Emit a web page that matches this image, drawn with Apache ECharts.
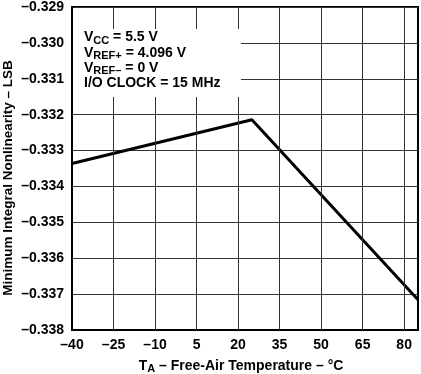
<!DOCTYPE html>
<html><head><meta charset="utf-8">
<script src="https://cdn.jsdelivr.net/npm/echarts@6/dist/echarts.min.js"></script>
<style>html,body{margin:0;padding:0;background:#fff}#c{width:421px;height:374px}</style>
</head><body><div id="c"></div>
<script>
var temps = [-40, 25, 85];
var inl = [-0.33336, -0.33214, -0.33716];
var xTicks = [-40, -25, -10, 5, 20, 35, 50, 65, 80];
var yMin = -0.338, yMax = -0.329, yStep = 0.001;

var FONT = '"Liberation Sans", Arial, sans-serif';
var chart = echarts.init(document.getElementById('c'), null, {renderer: 'canvas'});
chart.setOption({
  animation: false,
  grid: {left: 72, right: 3, top: 6, bottom: 44, show: true, borderColor: '#000', borderWidth: 2, backgroundColor: 'transparent'},
  xAxis: {
    type: 'value', min: -40, max: 85,
    axisLine: {show: true, onZero: false, lineStyle: {color: '#000', width: 2}},
    axisTick: {show: false},
    splitLine: {show: false},
    axisLabel: {customValues: xTicks, color: '#000', fontFamily: FONT, fontWeight: 'bold', fontSize: 14, margin: 8,
      formatter: function(v){ return v < 0 ? '\u2013' + Math.abs(v) : String(v); }}
  },
  yAxis: {
    type: 'value', min: yMin, max: yMax, interval: yStep,
    axisLine: {show: true, onZero: false, lineStyle: {color: '#000', width: 2}},
    axisTick: {show: false},
    splitLine: {show: true, lineStyle: {color: '#333', width: 1}},
    axisLabel: {color: '#000', fontFamily: FONT, fontWeight: 'bold', fontSize: 14, margin: 8,
      formatter: function(v){ return '\u2013' + Math.abs(v).toFixed(3); }}
  },
  series: [{
    type: 'line', data: temps.map(function(t, i){ return [t, inl[i]]; }),
    showSymbol: false, lineStyle: {color: '#000', width: 3}, z: 3,
    markLine: {
      silent: true, symbol: 'none', label: {show: false},
      lineStyle: {color: '#333', width: 1, type: 'solid'},
      emphasis: {disabled: true},
      data: xTicks.slice(1).map(function(v){ return {xAxis: v}; })
    }
  }],
  graphic: [
    {type: 'rect', left: 73, top: 29, shape: {width: 168, height: 68}, style: {fill: '#fff'}, z: 10},
    {type: 'text', left: 84, top: 29, z: 11, style: {
      text: '{a|V}{s|CC}{a| = 5.5 V}\n{a|V}{s|REF+}{a| = 4.096 V}\n{a|V}{s|REF\u2013}{a| = 0 V}\n{a|I/O CLOCK = 15 MHz}',
      rich: {
        a: {fontFamily: FONT, fontWeight: 'bold', fontSize: 14, fill: '#000', lineHeight: 15.3},
        s: {fontFamily: FONT, fontWeight: 'bold', fontSize: 11, fill: '#000', lineHeight: 15.3, padding: [6,0,0,0]}
      }
    }},
    {type: 'text', x: 241, y: 366, z: 11, style: {
      text: '{a|T}{s|A}{a| \u2013 Free-Air Temperature \u2013 \u00B0C}',
      align: 'center', verticalAlign: 'middle',
      rich: {
        a: {fontFamily: FONT, fontWeight: 'bold', fontSize: 14, fill: '#000', lineHeight: 16},
        s: {fontFamily: FONT, fontWeight: 'bold', fontSize: 11, fill: '#000', lineHeight: 16, padding: [6,0,0,0]}
      }
    }},
    {type: 'text', x: 8, y: 178, rotation: Math.PI / 2, z: 11, style: {
      text: 'Minimum Integral Nonlinearity \u2013 LSB',
      align: 'center', verticalAlign: 'middle',
      fontFamily: FONT, fontWeight: 'bold', fontSize: 13.5, fill: '#000'
    }}
  ]
});
</script></body></html>
